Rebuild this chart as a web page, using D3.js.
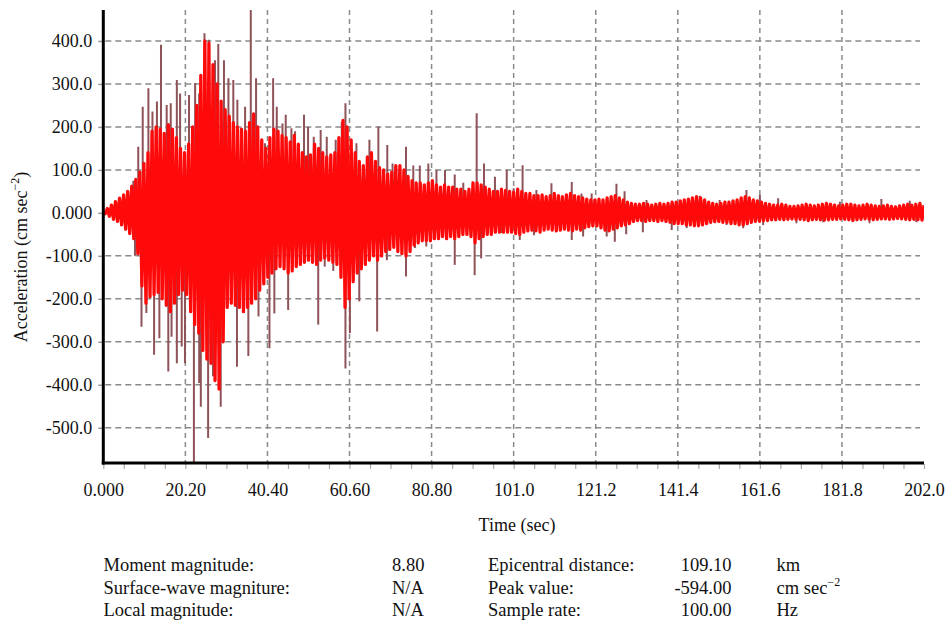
<!DOCTYPE html>
<html><head><meta charset="utf-8">
<script src="https://cdn.jsdelivr.net/npm/d3@7"></script>
<style>
html,body{margin:0;padding:0;background:#fff;}
svg{display:block;}
text{font-family:"Liberation Serif","Times New Roman",serif;fill:#111;}
</style></head><body>
<svg id="chart" width="947" height="625"></svg>
<script>
// Solid body of the trace, one reading per second (t = 0..202 s), cm/s^2
const bodyUpper = [2,10,18,26,34,42,50,62,78,95,
115,140,190,200,195,185,205,195,175,150,
140,160,200,250,320,400,395,345,300,260,
240,225,210,200,195,190,210,230,200,170,
150,175,195,190,180,175,165,180,160,140,
130,135,160,150,140,130,135,140,175,215,
200,170,140,120,110,130,140,120,105,100,
90,95,110,110,100,85,75,70,70,65,
70,75,65,60,65,60,60,55,55,50,
55,70,70,65,60,55,50,50,55,52,
50,48,55,50,45,45,40,40,42,38,
40,45,40,38,42,45,40,38,35,32,
30,30,32,30,35,38,40,35,30,25,
22,20,20,22,20,18,20,22,20,22,
25,25,28,30,32,35,38,35,30,25,
22,20,22,25,25,28,30,35,38,35,
30,28,25,22,20,18,18,20,18,15,
15,16,18,20,18,16,18,20,22,20,
18,16,18,20,20,18,16,18,20,18,
16,15,16,18,15,14,16,18,20,18,
20,22,18];
const bodyLower = [-2,-8,-15,-20,-28,-38,-48,-60,-95,-170,
-210,-195,-190,-185,-200,-215,-230,-210,-190,-180,
-190,-230,-260,-280,-320,-340,-350,-390,-410,-300,
-220,-210,-215,-220,-230,-220,-210,-200,-180,-165,
-150,-140,-130,-125,-130,-140,-135,-125,-120,-115,
-110,-115,-120,-110,-105,-110,-115,-120,-150,-220,
-200,-160,-140,-130,-120,-110,-100,-110,-100,-90,
-85,-80,-90,-95,-100,-90,-75,-70,-65,-65,
-65,-60,-60,-55,-60,-55,-60,-55,-50,-50,
-55,-70,-60,-55,-50,-50,-45,-45,-45,-45,
-45,-48,-50,-45,-42,-40,-42,-45,-40,-38,
-40,-42,-40,-38,-40,-42,-38,-40,-35,-32,
-30,-30,-35,-40,-42,-38,-35,-30,-28,-25,
-20,-18,-18,-20,-18,-18,-20,-18,-20,-22,
-25,-25,-25,-28,-28,-30,-30,-28,-25,-22,
-20,-20,-22,-22,-25,-25,-28,-28,-25,-22,
-20,-20,-18,-18,-16,-16,-15,-16,-15,-14,
-15,-15,-16,-18,-16,-15,-16,-17,-16,-15,
-15,-14,-15,-16,-18,-16,-15,-14,-15,-16,
-15,-14,-14,-15,-14,-13,-14,-15,-16,-15,
-16,-17,-15];
// Isolated spikes standing out of the body (time s, acceleration cm/s^2)
const spikeTime = [7.4,8.6,9.7,11.1,12.1,13.2,14.2,15.6,16.6,18.1,18.9,21.1,22.6,23.6,24.9,26.0,27.5,28.3,29.7,30.8,
32.0,33.0,34.9,36.3,37.6,39.8,41.8,42.7,44.1,44.9,46.3,47.2,49.4,50.4,51.8,53.5,55.0,57.2,58.7,59.6,
62.3,65.5,67.7,69.9,71.2,74.5,76.3,77.9,80.0,82.0,84.1,86.5,88.6,91.9,93.7,96.4,99.3,101.0,103.2,106.6,
110.3,115.3,117.7,120.2,126.3,128.3,133.7,146.8,151.7,158.3,161.6,166.1,181.3,191.5,198.5,
7.8,9.4,10.6,12.5,13.8,16.0,16.8,18.1,19.3,20.1,22.3,23.6,24.0,25.8,27.0,28.9,32.9,35.7,38.2,40.9,
42.1,45.5,52.9,54.5,56.6,59.6,60.7,63.0,67.4,69.8,74.5,76.7,79.5,86.5,91.4,93.0,98.0,102.5,106.0,115.3,
118.1,123.9,125.9,128.7,132.8,139.9,143.6,150.5,153.4,157.5,162.4,170.6,177.2,188.6,200.1];
const spikeAccel = [75,154,247,290,236,259,391,251,255,309,278,274,302,278,418,403,355,393,355,313,
309,263,247,472,313,162,313,247,208,228,197,190,228,200,177,193,177,170,212,255,
162,170,201,158,115,154,110,110,115,100,100,89,70,232,115,84,100,57,111,53,
69,72,45,45,68,50,30,40,30,53,42,34,26,32,28,
-100,-265,-233,-330,-292,-369,-288,-350,-311,-350,-594,-396,-451,-524,-380,-451,-358,-333,-241,-315,
-234,-226,-260,-125,-135,-362,-280,-206,-276,-110,-148,-82,-78,-121,-145,-106,-47,-63,-52,-63,
-55,-55,-67,-50,-45,-40,-35,-24,-28,-36,-28,-24,-22,-24,-22];

const xTickValues = [0, 20.2, 40.4, 60.6, 80.8, 101, 121.2, 141.4, 161.6, 181.8, 202];
const xTickLabels = ["0.000","20.20","40.40","60.60","80.80","101.0","121.2","141.4","161.6","181.8","202.0"];
const yTickValues = [400,300,200,100,0,-100,-200,-300,-400,-500];
const yTickLabels = ["400.0","300.0","200.0","100.0","0.000","-100.0","-200.0","-300.0","-400.0","-500.0"];
const infoLabelsLeft = ["Moment magnitude:","Surface-wave magniture:","Local magnitude:"];
const infoValuesLeft = ["8.80","N/A","N/A"];
const infoLabelsRight = ["Epicentral distance:","Peak value:","Sample rate:"];
const infoValuesRight = ["109.10","-594.00","100.00"];
const infoUnitsRight = ["km","cm sec","Hz"];

const svg = d3.select("#chart");
const L = 103.3, R = 924, T = 10, B = 463;
const x = d3.scaleLinear().domain([0, 202]).range([L, R]);
const y = d3.scaleLinear().domain([-582, 472]).range([B, T]);

svg.append("defs").append("clipPath").attr("id","plotclip")
  .append("rect").attr("x", L).attr("y", T).attr("width", R - L).attr("height", B - T);

// grid
const grid = svg.append("g");
grid.selectAll("line.h").data(yTickValues).enter().append("line")
  .attr("x1", L + 2).attr("x2", 920).attr("y1", d => y(d)).attr("y2", d => y(d))
  .attr("stroke", "#8a8a8a").attr("stroke-width", 1.5).attr("stroke-dasharray", "6,4");
grid.selectAll("line.v").data(xTickValues.slice(1, -1)).enter().append("line")
  .attr("x1", d => x(d)).attr("x2", d => x(d)).attr("y1", T).attr("y2", B)
  .attr("stroke", "#8a8a8a").attr("stroke-width", 1.5).attr("stroke-dasharray", "5,4");

const plot = svg.append("g").attr("clip-path", "url(#plotclip)");
// spikes
plot.selectAll("line.spike").data(spikeTime).enter().append("line")
  .attr("x1", d => x(d)).attr("x2", d => x(d))
  .attr("y1", y(0)).attr("y2", (d, i) => y(spikeAccel[i]))
  .attr("stroke", "#8e5258").attr("stroke-width", 2);
// body: trace alternating between the upper reading (t) and lower reading (t + 0.5)
const trace = [];
bodyUpper.forEach((u, i) => {
  trace.push([i, u]);
  if (i < bodyUpper.length - 1) trace.push([i + 0.5, bodyLower[i]]);
});
const line = d3.line().x(d => x(d[0])).y(d => y(d[1]));
plot.append("path").datum(trace).attr("d", line)
  .attr("fill", "none").attr("stroke", "#ff0a0a").attr("stroke-width", 3.3)
  .attr("stroke-linejoin", "round");

// axes
const yAxis = d3.axisLeft(y).tickValues(yTickValues)
  .tickFormat((d, i) => yTickLabels[i]).tickSize(5).tickPadding(6).tickSizeOuter(0);
const gy = svg.append("g").attr("transform", `translate(${L},0)`).call(yAxis);
gy.select(".domain").remove();
gy.selectAll(".tick line").attr("stroke", "#999").attr("stroke-width", 1.5);
gy.selectAll(".tick text").attr("font-size", 18).attr("font-family", "Liberation Serif").attr("fill", "#111");

const xMinor = d3.axisBottom(x).tickValues(d3.range(41).map(i => i * 5.05)).tickFormat("").tickSize(5).tickSizeOuter(0);
const gxm = svg.append("g").attr("transform", `translate(0,${B + 1})`).call(xMinor);
gxm.select(".domain").remove();
gxm.selectAll(".tick line").attr("stroke", "#aaa").attr("stroke-width", 1.2);

const xAxis = d3.axisBottom(x).tickValues(xTickValues)
  .tickFormat((d, i) => xTickLabels[i]).tickSize(0).tickSizeOuter(0);
const gx = svg.append("g").attr("transform", `translate(0,${B})`).call(xAxis);
gx.select(".domain").remove();
gx.selectAll(".tick text").attr("y", 33).attr("dy", 0)
  .attr("font-size", 18).attr("font-family", "Liberation Serif").attr("fill", "#111");

svg.append("line").attr("x1", L).attr("x2", L).attr("y1", T).attr("y2", B + 1.5)
  .attr("stroke", "#000").attr("stroke-width", 3);
svg.append("line").attr("x1", L - 1.5).attr("x2", R).attr("y1", B).attr("y2", B)
  .attr("stroke", "#000").attr("stroke-width", 3);

// axis titles
const yt = svg.append("text").attr("transform", "translate(27,257) rotate(-90)")
  .attr("text-anchor", "middle").attr("font-size", 18);
yt.append("tspan").text("Acceleration (cm sec");
yt.append("tspan").attr("font-size", 12).attr("dy", -8).text("\u22122");
yt.append("tspan").attr("dy", 8).text(")");

svg.append("text").attr("x", 517).attr("y", 531).attr("text-anchor", "middle")
  .attr("font-size", 18).text("Time (sec)");

// info table
const rowY = [571, 593.5, 616];
const info = svg.append("g").attr("font-size", 18.5);
info.selectAll("text.l1").data(infoLabelsLeft).enter().append("text")
  .attr("x", 103.5).attr("y", (d, i) => rowY[i]).text(d => d);
info.selectAll("text.v1").data(infoValuesLeft).enter().append("text")
  .attr("x", 392).attr("y", (d, i) => rowY[i]).text(d => d);
info.selectAll("text.l2").data(infoLabelsRight).enter().append("text")
  .attr("x", 488).attr("y", (d, i) => rowY[i]).text(d => d);
info.selectAll("text.v2").data(infoValuesRight).enter().append("text")
  .attr("x", 731.5).attr("y", (d, i) => rowY[i]).attr("text-anchor", "end").text(d => d);
const units = info.selectAll("text.u2").data(infoUnitsRight).enter().append("text")
  .attr("x", 776.5).attr("y", (d, i) => rowY[i]).text(d => d);
units.filter((d, i) => i === 1).append("tspan").attr("font-size", 12).attr("dy", -8).text("\u22122");
</script>
</body></html>
